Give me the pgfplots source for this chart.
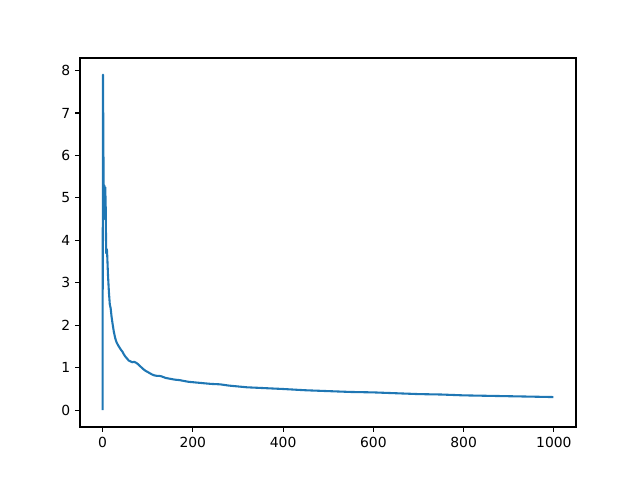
\documentclass[border=0pt]{standalone}
\usepackage{fontspec}
\setmainfont{DejaVu Sans}
\usepackage{pgfplots}
\pgfplotsset{compat=1.18}
\definecolor{c0}{HTML}{1F77B4}
\begin{document}
\begin{tikzpicture}[x=1pt,y=1pt]
\path[use as bounding box] (0,0) rectangle (460.8,345.6);
\begin{axis}[
  at={(57.6pt,38.16pt)}, anchor=south west,
  scale only axis, width=357.12pt, height=265.68pt,
  xmin=-49.95, xmax=1048.95, ymin=-0.395, ymax=8.295,
  xtick={0,200,400,600,800,1000},
  ytick={0,1,2,3,4,5,6,7,8},
  tick align=outside, tick pos=left,
  major tick length=3.5pt,
  every tick/.style={black,line width=0.8pt},
  axis line style={line width=0.8pt},
  tick label style={font=\fontsize{10}{12}\selectfont},
  /pgf/number format/assume math mode=true,
  /pgf/number format/set thousands separator={},
  scaled ticks=false,
]
\addplot[c0, line width=1.5pt, line join=round] coordinates {
(0,0) (1,7.9) (2,6.0) (3,4.6) (4,5.3) (5,4.5) (6,5.25) (7,4.8) (8,3.7) (9,3.8) (10,3.75)
(12,3.2) (14,2.8) (16,2.5) (18,2.4) (20,2.2) (22,2.05) (25,1.85) (28,1.7) (31,1.6)
(35,1.52) (38,1.47) (41,1.42) (44,1.38) (47,1.32) (50,1.27) (54,1.22) (58,1.17)
(62,1.15) (66,1.13) (70,1.14) (74,1.12) (78,1.09) (82,1.05) (86,1.01) (90,0.97)
(95,0.93) (100,0.90) (105,0.87) (110,0.84) (115,0.82) (120,0.81) (125,0.81) (130,0.80)
(135,0.78) (140,0.76) (145,0.75) (150,0.74) (155,0.73) (160,0.72) (170,0.71) (180,0.69)
(190,0.67) (200,0.66) (220,0.64) (240,0.62) (260,0.61) (280,0.58) (300,0.56) (320,0.54)
(340,0.53) (360,0.52) (380,0.51) (400,0.50) (450,0.47) (500,0.45) (550,0.43) (600,0.42)
(650,0.40) (700,0.38) (750,0.37) (800,0.35) (850,0.34) (900,0.33) (950,0.32) (999,0.31)
};
\end{axis}
\end{tikzpicture}
\end{document}
